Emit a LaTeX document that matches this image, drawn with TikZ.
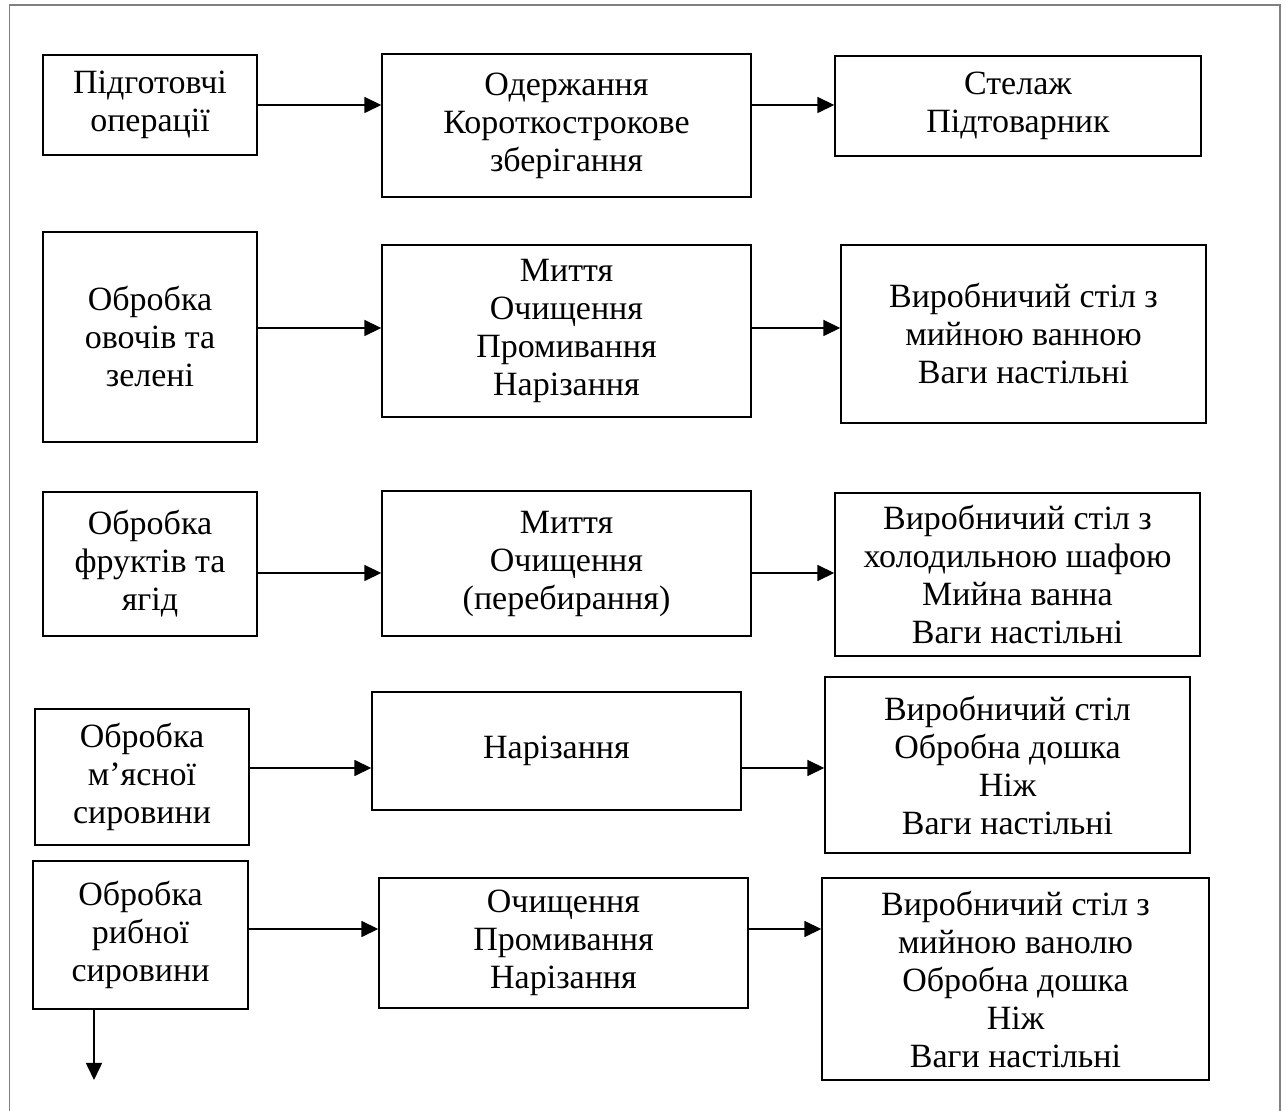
\documentclass[tikz,border=0pt]{standalone}
\usepackage{fontspec}
\setmainfont{Liberation Serif}
\usetikzlibrary{arrows.meta}

\tikzset{
	box/.style={draw, rectangle, line width=0.7pt, align=center, inner sep=0pt, font=\fontsize{17}{19}\selectfont},
	arr/.style={-{Triangle[length=8.5pt,width=8pt]}, line width=0.8pt}
}

\begin{document}
\begin{tikzpicture}[x=0.5pt, y=-0.5pt]
			\useasboundingbox (0,0) rectangle (1286,1111);
			\draw [gray, line width=0.7pt] (9.5,1111) -- (9.5,5) -- (1280,5) -- (1280,1111);
			
			\node (prep) at (150,105) [box, minimum width=107pt, minimum height=50pt] {Підготовчі\\операції};
			\node (receive) at (566.5,125.5) [box, minimum width=184.5pt, minimum height=71.5pt] {Одержання\\Короткострокове\\зберігання};
			\node (rack) at (1018,106) [box, minimum width=183pt, minimum height=50pt] {Стелаж\\Підтоварник};
			
			\node (veg) at (150,337) [box, minimum width=107pt, minimum height=105pt] {Обробка\\овочів та\\зелені};
			\node (vegops) at (566.5,331) [box, minimum width=184.5pt, minimum height=86pt] {Миття\\Очищення\\Промивання\\Нарізання};
			\node (vegeq) at (1023.5,334) [box, minimum width=182.5pt, minimum height=89pt] {Виробничий стіл з\\мийною ванною\\Ваги настільні};
			
			\node (fruit) at (150,564) [box, minimum width=107pt, minimum height=72pt] {Обробка\\фруктів та\\ягід};
			\node (fruitops) at (566.5,563.5) [box, minimum width=184.5pt, minimum height=72.5pt] {Миття\\Очищення\\(перебирання)};
			\node (fruiteq) at (1017.5,574.5) [box, minimum width=182.5pt, minimum height=81.5pt] {Виробничий стіл з\\холодильною шафою\\Мийна ванна\\Ваги настільні};
			
			\node (meat) at (142,777) [box, minimum width=107pt, minimum height=68pt] {Обробка\\м’ясної\\сировини};
			\node (meatops) at (556.5,751) [box, minimum width=184.5pt, minimum height=59pt] {Нарізання};
			\node (meateq) at (1007.5,765) [box, minimum width=182.5pt, minimum height=88pt] {Виробничий стіл\\Обробна дошка\\Ніж\\Ваги настільні};
			
			\node (fish) at (140.5,935) [box, minimum width=107.5pt, minimum height=74pt] {Обробка\\рибної\\сировини};
			\node (fishops) at (563.5,943) [box, minimum width=184.5pt, minimum height=65pt] {Очищення\\Промивання\\Нарізання};
			\node (fisheq) at (1015.5,979) [box, minimum width=193.5pt, minimum height=101pt] {Виробничий стіл з\\мийною ванолю\\Обробна дошка\\Ніж\\Ваги настільні};
			
			\coordinate (row1) at (0,105);
			\coordinate (row2) at (0,328);
			\coordinate (row3) at (0,573);
			\coordinate (row4) at (0,768);
			\coordinate (row5) at (0,929);
			\coordinate (out) at (94,1080);
			
			\draw [arr] (prep.east |- row1) -- (receive.west |- row1);
			\draw [arr] (receive.east |- row1) -- (rack.west |- row1);
			\draw [arr] (veg.east |- row2) -- (vegops.west |- row2);
			\draw [arr] (vegops.east |- row2) -- (vegeq.west |- row2);
			\draw [arr] (fruit.east |- row3) -- (fruitops.west |- row3);
			\draw [arr] (fruitops.east |- row3) -- (fruiteq.west |- row3);
			\draw [arr] (meat.east |- row4) -- (meatops.west |- row4);
			\draw [arr] (meatops.east |- row4) -- (meateq.west |- row4);
			\draw [arr] (fish.east |- row5) -- (fishops.west |- row5);
			\draw [arr] (fishops.east |- row5) -- (fisheq.west |- row5);
			\draw [arr] (fish.south -| out) -- (out);
		\end{tikzpicture}
\end{document}
